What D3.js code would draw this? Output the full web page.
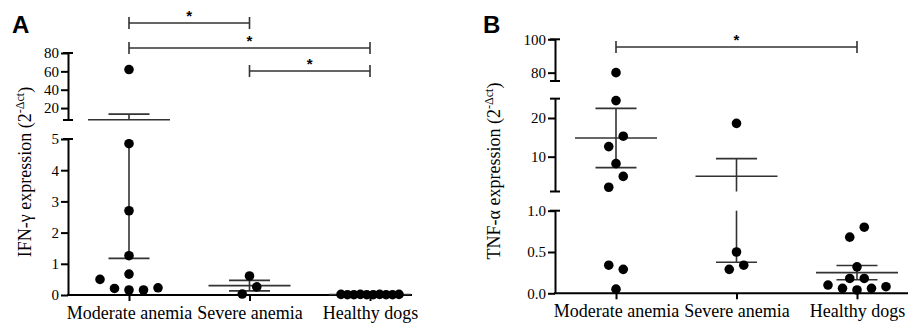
<!DOCTYPE html>
<html>
<head>
<meta charset="utf-8">
<script src="https://cdn.jsdelivr.net/npm/d3@7"></script>
<style>
  body { margin: 0; background: #fff; }
  text { font-family: "Liberation Serif", "Times New Roman", serif; fill: #000; }
</style>
</head>
<body>
<div id="chart"></div>
<script>
// categories shared by both panels
const groups = ["Moderate anemia", "Severe anemia", "Healthy dogs"];

// panel A - IFN-gamma expression
const ifnModerate = [62, 4.85, 2.7, 1.26, 0.67, 0.5, 0.21, 0.16, 0.16, 0.23];
const ifnSevere = [0.61, 0.03, 0.26];
const ifnHealthy = [0.02, 0.01, 0.01, 0.02, 0.01, 0.01, 0.02, 0.01, 0.01, 0.02];
const ifnTicksLow = [0, 1, 2, 3, 4, 5];
const ifnTicksHigh = [20, 40, 60, 80];
const ifnCompare = [[0, 1], [0, 2], [1, 2]];   // pairs marked with *

// panel B - TNF-alpha expression
const tnfModerate = [80, 24.5, 12.6, 15.3, 8.2, 2.1, 4.9, 0.34, 0.29, 0.05];
const tnfSevere = [18.6, 0.5, 0.29, 0.34];
const tnfHealthy = [0.68, 0.8, 0.32, 0.18, 0.18, 0.1, 0.06, 0.04, 0.06, 0.08];
const tnfTicksLow = [0, 0.5, 1];
const tnfTicksMid = [10, 20];
const tnfTicksHigh = [80, 100];
const tnfCompare = [[0, 2]];

const width = 912, height = 325;
const dotR = 4.8, dotStep = 14.5, maxSpread = 58, rowGap = 11;

const svg = d3.select("#chart").append("svg")
  .attr("width", width)
  .attr("height", height);

// broken y axis: one linear scale per segment
const panels = [
  {
    letter: "A", letterX: 12, x0: 68, x1: 412,
    label: "IFN-\u03b3 expression (2", series: [ifnModerate, ifnSevere, ifnHealthy],
    compare: ifnCompare, bracketY: [23, 48, 71], labelX: 31, labelY: 172,
    segments: [
      { domain: [0, 5], range: [295, 139], ticks: ifnTicksLow, fmt: d3.format("d") },
      { domain: [7, 80], range: [120, 53], ticks: ifnTicksHigh, fmt: d3.format("d") }
    ]
  },
  {
    letter: "B", letterX: 483, x0: 555, x1: 908,
    label: "TNF-\u03b1 expression (2", series: [tnfModerate, tnfSevere, tnfHealthy],
    compare: tnfCompare, bracketY: [47], labelX: 500, labelY: 171,
    segments: [
      { domain: [0, 1], range: [293.3, 210.7], ticks: tnfTicksLow, fmt: d3.format(".1f") },
      { domain: [1, 25], range: [191.5, 98.65], ticks: tnfTicksMid, fmt: d3.format("d") },
      { domain: [75, 100], range: [81, 39.3], ticks: tnfTicksHigh, fmt: d3.format("d") }
    ]
  }
];

function swarm(vals, y, cx) {
  // group values into rows by pixel height, spread each row sideways
  const order = vals.map((v, i) => i).sort((a, b) => vals[a] - vals[b]);
  const rows = [];
  order.forEach(i => {
    const row = rows[rows.length - 1];
    if (row && Math.abs(y(vals[row[0]]) - y(vals[i])) < rowGap) row.push(i);
    else rows.push([i]);
  });
  const pts = [];
  rows.forEach(row => {
    row.sort((a, b) => a - b);
    const n = row.length;
    const step = n > 1 ? Math.min(dotStep, maxSpread / (n - 1)) : 0;
    row.forEach((i, k) => pts.push({ x: cx + (k - (n - 1) / 2) * step, y: y(vals[i]) }));
  });
  return pts;
}

panels.forEach(p => {
  const g = svg.append("g");
  p.segments.forEach(s => s.scale = d3.scaleLinear().domain(s.domain).range(s.range));
  const y = v => {
    const s = p.segments.find(s => v >= s.domain[0] && v <= s.domain[1]) || p.segments[0];
    return s.scale(v);
  };
  const yBase = p.segments[0].range[0];

  const x = d3.scalePoint().domain(groups).range([p.x0 + 61, p.x0 + 302]);

  // panel letter
  g.append("text")
    .attr("x", p.letterX).attr("y", 33)
    .style("font-family", "'Liberation Sans', Arial, sans-serif")
    .style("font-weight", "bold")
    .style("font-size", "24px")
    .text(p.letter);

  // y axis label
  const yl = g.append("text")
    .attr("transform", `translate(${p.labelX},${p.labelY}) rotate(-90)`)
    .attr("text-anchor", "middle")
    .style("font-size", "18px");
  yl.append("tspan").text(p.label);
  yl.append("tspan").attr("dy", -7).style("font-size", "12px").text("-\u0394ct");
  yl.append("tspan").attr("dy", 7).text(")");

  // y axis segments
  p.segments.forEach((s, si) => {
    const ax = g.append("g")
      .attr("transform", `translate(${p.x0},0)`)
      .call(d3.axisLeft(s.scale).tickValues(s.ticks).tickFormat(s.fmt).tickSize(7).tickSizeOuter(0).tickPadding(2))
      .attr("font-family", null)
      .attr("font-size", null);
    ax.select(".domain").attr("stroke-width", 2);
    ax.selectAll(".tick line").attr("stroke-width", 2);
    ax.selectAll(".tick text").style("font-size", "15px");
    // break caps
    s.range.forEach((r, ri) => {
      if (si === 0 && ri === 0) return;
      g.append("line")
        .attr("x1", p.x0 - 5).attr("x2", p.x0 + 5)
        .attr("y1", r).attr("y2", r)
        .attr("stroke", "#000").attr("stroke-width", 2);
    });
  });

  // x axis
  g.append("line")
    .attr("x1", p.x0 - 1).attr("x2", p.x1)
    .attr("y1", yBase).attr("y2", yBase)
    .attr("stroke", "#000").attr("stroke-width", 2);
  const xa = g.append("g")
    .attr("transform", `translate(0,${yBase})`)
    .call(d3.axisBottom(x).tickSize(6).tickPadding(5))
    .attr("font-family", null)
    .attr("font-size", null);
  xa.select(".domain").remove();
  xa.selectAll(".tick line").attr("stroke-width", 2);
  xa.selectAll(".tick text").style("font-size", "18px");

  // mean +- SEM and dots
  p.series.forEach((vals, gi) => {
    const cx = x(groups[gi]);
    const m = d3.mean(vals);
    const sem = d3.deviation(vals) / Math.sqrt(vals.length);
    const lines = g.append("g").attr("stroke", "#333").attr("stroke-width", 1.6);
    p.segments.forEach(s => {
      const lo = Math.max(m - sem, s.domain[0]), hi = Math.min(m + sem, s.domain[1]);
      if (lo < hi) {
        lines.append("line").attr("x1", cx).attr("x2", cx)
          .attr("y1", s.scale(lo)).attr("y2", s.scale(hi));
      }
    });
    lines.append("line").attr("x1", cx - 41).attr("x2", cx + 41).attr("y1", y(m)).attr("y2", y(m));
    [m - sem, m + sem].forEach(v => {
      lines.append("line").attr("x1", cx - 20.5).attr("x2", cx + 20.5).attr("y1", y(v)).attr("y2", y(v));
    });

    g.selectAll(null)
      .data(swarm(vals, y, cx))
      .join("circle")
      .attr("cx", d => d.x)
      .attr("cy", d => d.y)
      .attr("r", dotR)
      .attr("fill", "#000");
  });

  // significance brackets
  p.compare.forEach((c, ci) => {
    const by = p.bracketY[ci];
    const xa0 = x(groups[c[0]]), xa1 = x(groups[c[1]]);
    g.append("path")
      .attr("d", `M${xa0},${by - 6}V${by + 6}M${xa0},${by}H${xa1}M${xa1},${by - 6}V${by + 6}`)
      .attr("fill", "none").attr("stroke", "#333").attr("stroke-width", 1.6);
    g.append("text")
      .attr("x", (xa0 + xa1) / 2).attr("y", by - 2)
      .attr("text-anchor", "middle")
      .style("font-family", "'Liberation Sans', Arial, sans-serif")
      .style("font-weight", "bold")
      .style("font-size", "15px")
      .text("*");
  });
});
</script>
</body>
</html>
